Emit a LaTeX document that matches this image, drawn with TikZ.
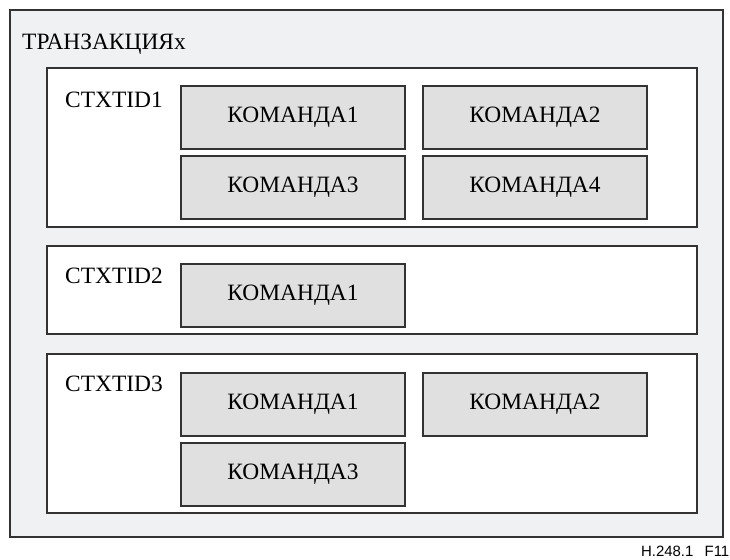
\documentclass[tikz,border=0pt]{standalone}
\usepackage{fontspec}
\setmainfont{Liberation Serif}
\newfontfamily\labelsans{Liberation Sans}
\definecolor{outerfill}{HTML}{F0F1F3}
\definecolor{cmdfill}{HTML}{E0E0E0}
\definecolor{edge}{HTML}{333333}
\begin{document}
\begin{tikzpicture}[x=1bp,y=-1bp,
  framebox/.style={draw=edge,line width=1.1bp},
  cmdbox/.style={draw=edge,line width=1.1bp,fill=cmdfill,minimum width=224bp,minimum height=63bp,
    inner sep=0pt,font=\fontsize{23.5}{26}\selectfont},
  tag/.style={anchor=west,inner sep=0pt,font=\fontsize{23.5}{26}\selectfont}]
\useasboundingbox (0,0) rectangle (730,560);
% transaction frame
\draw[framebox,fill=outerfill] (10,10) rectangle (723,537);
\node[tag] (trans) at (22,44) {ТРАНЗАКЦИЯx};
% context frames
\draw[framebox,fill=white] (47,68) rectangle (697,227);
\draw[framebox,fill=white] (47,246) rectangle (697,334);
\draw[framebox,fill=white] (47,354) rectangle (697,513);
\node[tag] (ctx1) at (65,100) {CTXTID1};
\node[tag] (ctx2) at (65,276) {CTXTID2};
\node[tag] (ctx3) at (65,384) {CTXTID3};
% commands of context 1
\node[cmdbox] (c1a) at (293,117.5) {КОМАНДА1};
\node[cmdbox] (c1b) at (535,117.5) {КОМАНДА2};
\node[cmdbox] (c1c) at (293,187.5) {КОМАНДА3};
\node[cmdbox] (c1d) at (535,187.5) {КОМАНДА4};
% commands of context 2
\node[cmdbox] (c2a) at (293,295.5) {КОМАНДА1};
% commands of context 3
\node[cmdbox] (c3a) at (293,404.5) {КОМАНДА1};
\node[cmdbox] (c3b) at (535,404.5) {КОМАНДА2};
\node[cmdbox] (c3c) at (293,474.5) {КОМАНДА3};
% figure number
\node[anchor=east,inner sep=0pt,font=\labelsans\fontsize{15}{17}\selectfont] (fig) at (729.5,551) {H.248.1\hspace{0.75em}F11};
\end{tikzpicture}
\end{document}
